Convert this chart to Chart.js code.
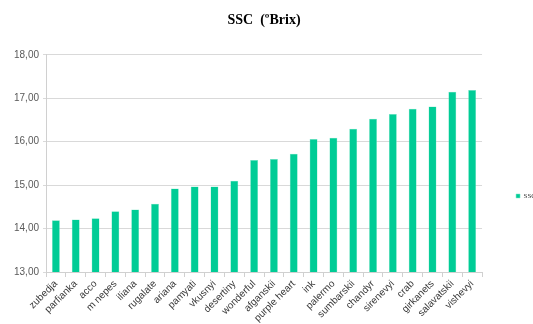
<!DOCTYPE html>
<html>
<head>
<meta charset="utf-8">
<script src="https://cdn.jsdelivr.net/npm/chart.js@4"></script>
<style>
  html, body { margin:0; padding:0; background:#fff; overflow:hidden; width:533px; height:324px; }
  #wrap { width:546px; height:392px; }
</style>
</head>
<body>
<div id="wrap"><canvas id="ssc" width="546" height="392"></canvas></div>
<script>
// ===== Data =====
const cultivars = ["zubedja","parfianka","acco","m nepes","iliana","rugalate","ariana","pamyati","vkusnyi","desertiny",
  "wonderful","afganskii","purple heart","ink","palermo","sumbarskii","chandyr","sirenevyi","crab","girkanets","salavatskii","vishevyi"];
const sscValues = [14.19,14.21,14.24,14.40,14.44,14.57,14.92,14.97,14.97,15.10,
  15.58,15.60,15.72,16.06,16.09,16.30,16.53,16.64,16.76,16.81,17.15,17.19];
const seriesName = "SSC";
const chartTitle = "SSC  (\u00baBrix)";
const yMin = 13, yMax = 18, yStep = 1;

// ===== Chart =====
const ctx = document.getElementById("ssc").getContext("2d");
new Chart(ctx,{
  type:'bar',
  data:{
    labels:cultivars,
    datasets:[{
      label:seriesName,
      data:sscValues,
      backgroundColor:'#00cc96',
      borderColor:'#7fe6c8',
      borderWidth:0.5,
      barPercentage:0.4,
      categoryPercentage:1
    }]
  },
  options:{
    responsive:false,
    animation:false,
    devicePixelRatio:1,
    layout:{padding:0},
    plugins:{
      title:{
        display:true,
        text:chartTitle,
        fullSize:false,
        color:'#000',
        font:{family:'"Liberation Serif","Times New Roman",serif',size:14,weight:'bold'},
        padding:{top:12,bottom:26}
      },
      legend:{
        position:'right',
        labels:{
          boxWidth:4,boxHeight:4,padding:34,
          color:'#333',
          font:{family:'"Liberation Serif","Times New Roman",serif',size:7}
        }
      },
      tooltip:{enabled:false}
    },
    scales:{
      x:{
        afterFit:s=>{s.height=120;},
        grid:{offset:true,drawOnChartArea:false,tickLength:5,color:'#d0d0d0'},
        border:{color:'#d0d0d0'},
        ticks:{autoSkip:false,minRotation:45,maxRotation:45,padding:1,color:'#3a3a3a',
          font:{family:'"Liberation Sans",Arial,sans-serif',size:10}}
      },
      y:{
        min:yMin,max:yMax,
        afterFit:s=>{s.width=46;},
        grid:{color:'#d9d9d9',tickLength:3},
        border:{color:'#d0d0d0'},
        ticks:{stepSize:yStep,padding:4,color:'#595959',
          font:{family:'"Liberation Sans",Arial,sans-serif',size:10},
          callback:v=>v.toFixed(2).replace('.',',')}
      }
    }
  }
});
</script>
</body>
</html>
